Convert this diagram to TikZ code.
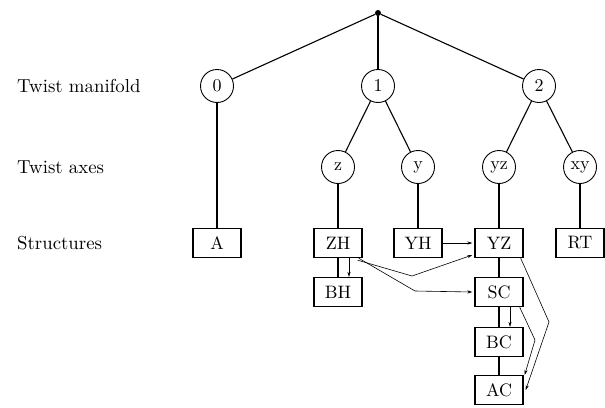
\documentclass[tikz,border=0pt]{standalone}
\usetikzlibrary{arrows.meta}
\newcommand\bigtxt[1]{\scalebox{1.8}{#1}}
\newcommand\labtxt[1]{\scalebox{1.88}{#1}}
\begin{document}
\begin{tikzpicture}[x=1pt,y=-1pt,
  circ/.style={circle,draw,line width=0.9pt,minimum size=33pt,inner sep=0pt},
  sbox/.style={rectangle,draw,line width=1.4pt,minimum width=48pt,minimum height=29pt,inner sep=0pt},
  lab/.style={anchor=west,inner sep=0pt},
  tree/.style={line width=1.1pt},
  thick tree/.style={line width=1.6pt},
  arr/.style={line width=0.6pt,-{Stealth[length=5pt,width=3.2pt]}}]
\useasboundingbox (0,0) rectangle (605,407);
% row labels
\node[lab] (l1) at (17,86) {\labtxt{Twist manifold}};
\node[lab] (l2) at (17,167) {\labtxt{Twist axes}};
\node[lab] (l3) at (17,243) {\labtxt{Structures}};
% root
\node[circle,fill,inner sep=0pt,minimum size=6pt] (root) at (378,13) {};
% manifold circles
\node[circ] (c0) at (217,86) {\bigtxt{0}};
\node[circ] (c1) at (378,86) {\bigtxt{1}};
\node[circ] (c2) at (539,86) {\bigtxt{2}};
% axes circles
\node[circ] (az) at (338,167) {\bigtxt{z}};
\node[circ] (ay) at (418,167) {\bigtxt{y}};
\node[circ] (ayz) at (499,167) {\bigtxt{yz}};
\node[circ] (axy) at (580,167) {\bigtxt{xy}};
% structures
\node[sbox] (A) at (217,243) {\bigtxt{A}};
\node[sbox] (ZH) at (338,243) {\bigtxt{ZH}};
\node[sbox] (YH) at (418,243) {\bigtxt{YH}};
\node[sbox] (YZ) at (499,243) {\bigtxt{YZ}};
\node[sbox] (RT) at (580,243) {\bigtxt{RT}};
\node[sbox] (BH) at (338,292) {\bigtxt{BH}};
\node[sbox] (SC) at (499,292) {\bigtxt{SC}};
\node[sbox] (BC) at (499,342) {\bigtxt{BC}};
\node[sbox] (AC) at (499,390) {\bigtxt{AC}};
% tree lines
\draw[tree] (root) -- (c0);
\draw[tree] (root) -- (c1);
\draw[tree] (root) -- (c2);
\draw[thick tree] (c0) -- (A);
\draw[tree] (c1) -- (az);
\draw[tree] (c1) -- (ay);
\draw[tree] (c2) -- (ayz);
\draw[tree] (c2) -- (axy);
\draw[tree] (az) -- (ZH);
\draw[thick tree] (ay) -- (YH);
\draw[tree] (ayz) -- (YZ);
\draw[tree] (axy) -- (RT);
\draw[thick tree] (ZH) -- (BH);
\draw[thick tree] (YZ) -- (SC);
\draw[thick tree] (SC) -- (BC);
\draw[tree] (BC) -- (AC);
% bend points
\coordinate (b1) at (412,276);
\coordinate (b2) at (415,291);
\coordinate (b3) at (535,340);
\coordinate (b4) at (549,322);
% arrows
\draw[arr] ([xshift=11pt]ZH.south) -- ([xshift=11pt]BH.north);
\draw[arr] (YH.east) -- ([xshift=-2pt]YZ.west);
\draw[arr] ([xshift=-5pt,yshift=-2pt]ZH.south east) -- (b1) -- ([xshift=-2pt,yshift=-12pt]YZ.west);
\draw[arr] ([xshift=-4pt,yshift=0pt]ZH.south east) -- (b2) -- ([xshift=-2pt]SC.west);
\draw[arr] ([xshift=11pt]SC.south) -- ([xshift=11pt]BC.north);
\draw[arr] ([xshift=-4pt]SC.south east) -- (b3) -- ([xshift=1pt]AC.north east);
\draw[arr] ([xshift=-3pt]YZ.south east) -- (b4) -- ([xshift=2pt]AC.east);
\end{tikzpicture}
\end{document}
